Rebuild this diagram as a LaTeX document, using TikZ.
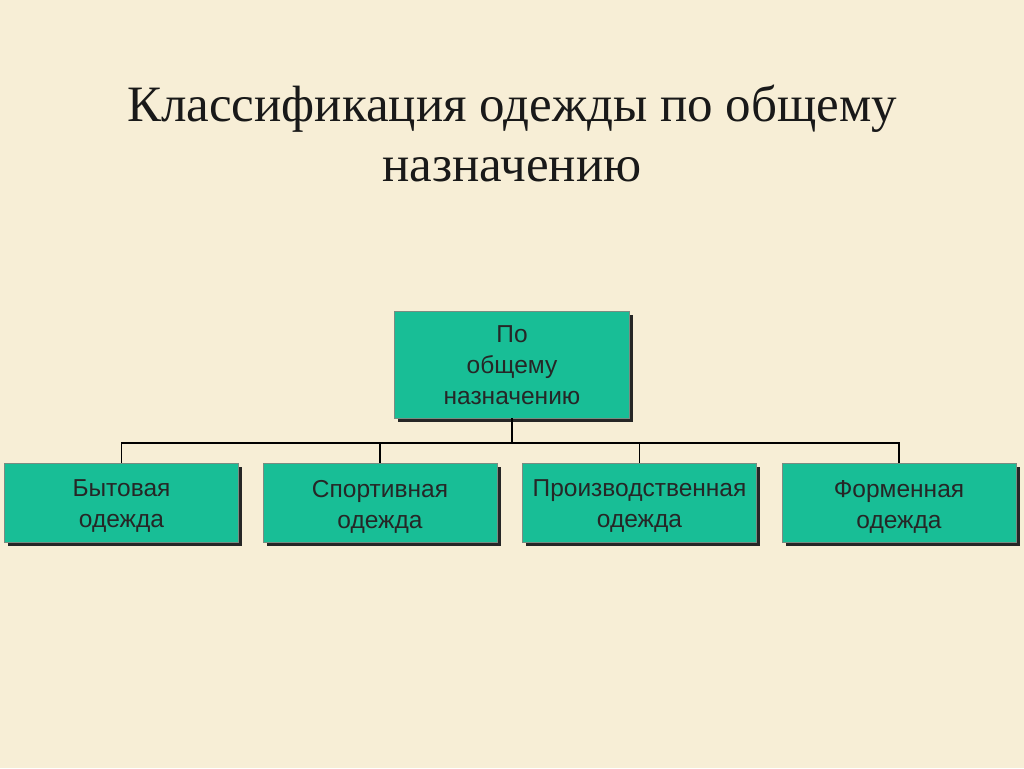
\documentclass[tikz,border=0pt]{standalone}
\usepackage{fontspec}
\setmainfont{Liberation Serif}
\newfontfamily\boxfont{Liberation Sans}
\definecolor{bg}{RGB}{247,238,214}
\definecolor{teal}{RGB}{24,190,150}
\definecolor{edge}{RGB}{120,140,130}
\tikzset{
  x=1pt,y=-1pt,
  catbox/.style={draw=edge,line width=0.8pt,fill=teal,minimum width=234pt,inner sep=0pt,
    preaction={fill=black!85,transform canvas={xshift=3.5pt,yshift=-3.5pt}}},
  boxtext/.style={align=center,font=\boxfont\fontsize{24.5}{31}\selectfont,text=black!85,inner sep=0pt},
  link/.style={draw=black,line width=1.2pt}
}
\begin{document}
\begin{tikzpicture}
\useasboundingbox[fill=bg] (0,0) rectangle (1024,768);
\node[font=\fontsize{51}{60}\selectfont,align=center,text=black!90] (title) at (512,133)
  {Классификация одежды по общему\\назначению};
\node[catbox,minimum width=235pt,minimum height=107pt] (top) at (512,364.5) {};
\node[boxtext,yshift=-1pt] (topt) at (top.center) {По\\общему\\назначению};
\node[catbox,minimum height=79pt] (b1) at (121.5,502.5) {};
\node[catbox,minimum height=79pt] (b2) at (380,502.5) {};
\node[catbox,minimum height=79pt] (b3) at (639.5,502.5) {};
\node[catbox,minimum height=79pt] (b4) at (899,502.5) {};
\node[boxtext,yshift=-4pt] (b1t) at (b1.center) {Бытовая\\одежда};
\node[boxtext,yshift=-4pt] (b2t) at (b2.center) {Спортивная\\одежда};
\node[boxtext,yshift=-4pt] (b3t) at (b3.center) {Производственная\\одежда};
\node[boxtext,yshift=-4pt] (b4t) at (b4.center) {Форменная\\одежда};
\coordinate (j) at (512,443);
\draw[link] (top.south) -- (j);
\draw[link] (b1.north) |- (j) -| (b4.north);
\draw[link] (b2.north) -- (b2.north |- j);
\draw[link] (b3.north) -- (b3.north |- j);
\end{tikzpicture}
\end{document}
